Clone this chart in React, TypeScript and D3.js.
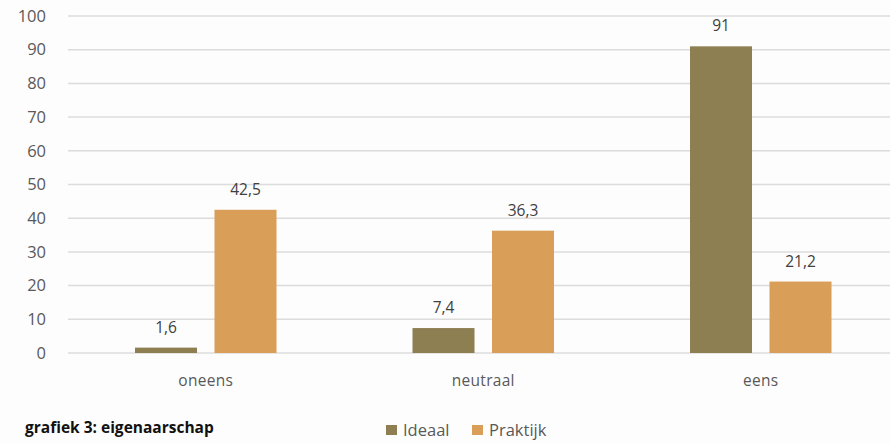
import React from "react";
import * as d3 from "d3";

const categories = ["oneens", "neutraal", "eens"];
const seriesNames = ["Ideaal", "Praktijk"];
const ideaal = [1.6, 7.4, 91];
const praktijk = [42.5, 36.3, 21.2];
const valueLabels = [["1,6", "7,4", "91"], ["42,5", "36,3", "21,2"]];
const yTicks = [0, 10, 20, 30, 40, 50, 60, 70, 80, 90, 100];
const colors = ["#8E7F52", "#D99E58"];
const caption = "grafiek 3: eigenaarschap";

const W = 890;
const H = 444;
const font = "'Open Sans', sans-serif";

export default function App() {
  const x0 = d3.scaleBand<string>().domain(categories).range([67, 899.5]).padding(0);
  const bw0 = x0.bandwidth();
  const x1 = d3
    .scaleBand<string>()
    .domain(seriesNames)
    .range([68, bw0 - 68])
    .paddingInner(0.22)
    .paddingOuter(0);
  const y = d3.scaleLinear().domain([0, 100]).range([353, 16]);
  const series = [ideaal, praktijk];

  return (
    <svg
      width={W}
      height={H}
      style={{ position: "absolute", left: 0, top: 0, background: "#fdfdfd" }}
    >
      <rect x={0} y={0} width={W} height={H} fill="#fdfdfd" />
      {yTicks.map((t) => (
        <g key={t}>
          <line x1={68} x2={W} y1={y(t)} y2={y(t)} stroke="#dcdcdc" strokeWidth={1.5} />
          <text
            x={46}
            y={y(t)}
            dy="0.35em"
            textAnchor="end"
            fontFamily={font}
            fontSize={16.5}
            fill="#595959"
          >
            {t}
          </text>
        </g>
      ))}
      {categories.map((c, ci) => (
        <g key={c} transform={`translate(${x0(c)},0)`}>
          {seriesNames.map((s, si) => {
            const v = series[si][ci];
            const bx = x1(s)!;
            return (
              <g key={s}>
                <rect
                  x={bx}
                  y={y(v)}
                  width={x1.bandwidth()}
                  height={y(0) - y(v)}
                  fill={colors[si]}
                />
                <text
                  x={bx + x1.bandwidth() / 2}
                  y={y(v) - 15}
                  textAnchor="middle"
                  fontFamily={font}
                  fontSize={15.5}
                  fill="#404040"
                >
                  {valueLabels[si][ci]}
                </text>
              </g>
            );
          })}
          <text
            x={bw0 / 2}
            y={386}
            textAnchor="middle"
            fontFamily={font}
            fontSize={15.5}
            fill="#595959"
            letterSpacing={0.3}
          >
            {c}
          </text>
        </g>
      ))}
      <text x={25} y={433} fontFamily={font} fontSize={15.5} fontWeight="bold" fill="#111">
        {caption}
      </text>
      {seriesNames.map((s, i) => {
        const lx = [386, 472][i];
        return (
          <g key={s}>
            <rect x={lx} y={425} width={11} height={10} fill={colors[i]} />
            <text x={lx + 17} y={436} fontFamily={font} fontSize={16.5} fill="#595959">
              {s}
            </text>
          </g>
        );
      })}
    </svg>
  );
}
